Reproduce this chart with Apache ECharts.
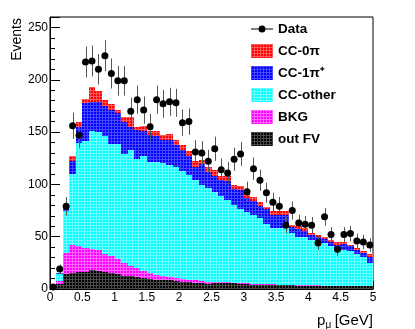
<!DOCTYPE html>
<html>
<head>
<meta charset="utf-8">
<script src="https://cdn.jsdelivr.net/npm/echarts@6/dist/echarts.min.js"></script>
<style>
html, body { margin: 0; padding: 0; background: #fff; }
#chart { width: 415px; height: 329px; }
</style>
</head>
<body>
<div id="chart"></div>
<script>
// 50 bins of 0.1 GeV, p_mu from 0 to 5
var binLow = 0, binWidth = 0.1;

var dataCounts = [2, 19, 79, 156, 147, 217, 218, 210, 223, 206,
                  199, 199, 170, 181, 171, 155, 181, 177, 179, 178,
                  159, 160, 131, 130, 122, 134, 114, 111, 124, 129,
                  93, 115, 104, 92, 83, 79, 61, 75, 63, 62,
                  61, 44, 69, 52, 38, 52, 53, 46, 45, 42];

// MC components, bottom of the stack first
var outFV = [3, 4.8, 14.3, 15.3, 16, 16, 17.8, 17, 16, 15.3,
             14.3, 12.7, 12, 11, 10.5, 10, 9, 9, 8.3, 7.3,
             6.7, 6.4, 5.7, 5.7, 5, 6, 5.7, 5.5, 5.5, 5.2,
             4.5, 4.2, 4, 4, 3.8, 3.6, 3.5, 3.5, 3.3, 3.2,
             3, 3, 2.9, 2.8, 2.7, 2.6, 2.6, 2.5, 2.5, 2.4];
var bkg = [0.3, 2.5, 19.7, 26.4, 24.8, 23, 20.2, 20.6, 17.8, 16.5,
           14.7, 12.1, 10.3, 9, 6.4, 5.3, 4.7, 3.7, 3.2, 3.2,
           3.2, 2.6, 2.6, 1.6, 1.7, 1, 0.8, 0.8, 0.7, 0.8,
           1, 0.8, 0.8, 0.7, 0.7, 0.7, 0.6, 0.5, 0.6, 0.6,
           0.6, 0.5, 0.4, 0.4, 0.4, 0.4, 0.4, 0.4, 0.4, 0.4];
var ccOther = [0.4, 7, 41, 68.3, 99.2, 102, 113.5, 112.4, 112.2, 107.2,
               110, 104.2, 110.7, 104, 110.1, 105.7, 107.3, 107.3, 107.5, 106.5,
               103.1, 100, 96.2, 92.4, 89.8, 86, 82.5, 78.7, 74.4, 70,
               68.5, 66, 63.2, 57.3, 53.5, 53.7, 53.9, 49.5, 46.1, 46.2,
               43.4, 41, 40.2, 37.8, 34.4, 34.5, 33.1, 30.6, 27.6, 22.2];
var cc1pi = [0.1, 0.7, 1.5, 12, 15, 37, 27.5, 29, 28.5, 32,
             29, 31, 22, 28, 24, 26, 25.5, 22.7, 23.7, 21,
             20, 18, 12.5, 19.7, 15.5, 15, 15.5, 18, 14.9, 19,
             13, 13, 11, 14, 13, 13, 13, 5.5, 7, 5,
             5, 5.5, 4.5, 3.6, 4.5, 5.5, 4.9, 4.1, 3.5, 6];
var cc0pi = [0, 0.3, 1, 5, 4.5, 3.5, 14, 10, 6.5, 6,
             3, 4, 9, 3, 5, 4, 4.5, 4.8, 5.3, 4.7,
             5, 4.5, 5, 4.2, 5, 6, 3.5, 4.6, 4.2, 3.7,
             3.8, 3.6, 3.8, 2.5, 3.5, 3.5, 3.5, 2.5, 3, 3,
             2, 2, 2, 1.9, 2.6, 2, 1, 1.4, 2, 2];

var xTicks = [0, 0.5, 1, 1.5, 2, 2.5, 3, 3.5, 4, 4.5, 5];
var yTicks = [0, 50, 100, 150, 200, 250];

var font = 'Liberation Sans';

// small grid texture, like the ROOT fill pattern
function gridFill(base, line) {
  var c = document.createElement('canvas');
  c.width = 3; c.height = 3;
  var g = c.getContext('2d');
  g.fillStyle = base;
  g.fillRect(0, 0, 3, 3);
  g.fillStyle = line;
  g.fillRect(0, 0, 3, 1);
  g.fillRect(0, 0, 1, 3);
  return { image: c, repeat: 'repeat' };
}

var components = [
  { name: 'out FV', values: outFV, color: gridFill('#000000', '#4a4a4a') },
  { name: 'BKG', values: bkg, color: gridFill('#ff00ff', '#ff66ff') },
  { name: 'CC-other', values: ccOther, color: gridFill('#00ffff', '#70ffff') },
  { name: 'CC-1\u03c0\u207a', values: cc1pi, color: gridFill('#0000ff', '#4848ff') },
  { name: 'CC-0\u03c0', values: cc0pi, color: gridFill('#ff0000', '#ff5a5a') }
];

function histItem(params, api) {
  var lo = api.coord([api.value(0), api.value(2)]);
  var hi = api.coord([api.value(1), api.value(3)]);
  var x0 = Math.round(lo[0]), x1 = Math.round(hi[0]);
  var yb = Math.round(lo[1]), yt = Math.round(hi[1]);
  return {
    type: 'rect',
    shape: { x: x0, y: yt, width: x1 - x0, height: yb - yt },
    style: api.style()
  };
}

function errItem(params, api) {
  var a = api.coord([api.value(0), api.value(1)]);
  var b = api.coord([api.value(0), api.value(2)]);
  var x = Math.round(a[0]) + 0.5;
  return {
    type: 'line',
    shape: { x1: x, y1: a[1], x2: x, y2: b[1] },
    style: { stroke: '#555', lineWidth: 1 }
  };
}

var series = [];
var below = dataCounts.map(function () { return 0; });
components.forEach(function (c) {
  var rows = c.values.map(function (v, i) {
    var lo = binLow + i * binWidth;
    var row = [lo, lo + binWidth, below[i], below[i] + v];
    below[i] += v;
    return row;
  });
  series.push({
    name: c.name,
    type: 'custom',
    renderItem: histItem,
    itemStyle: { color: c.color },
    encode: { x: [0, 1], y: [2, 3] },
    data: rows,
    silent: true
  });
});

var centers = dataCounts.map(function (v, i) { return binLow + (i + 0.5) * binWidth; });

series.push({
  type: 'custom',
  renderItem: errItem,
  encode: { x: 0, y: [1, 2] },
  data: dataCounts.map(function (v, i) {
    var e = Math.sqrt(v);
    return [centers[i], v - e, v + e];
  }),
  silent: true,
  z: 3
});

series.push({
  name: 'Data',
  type: 'scatter',
  symbol: 'circle',
  symbolSize: 7,
  itemStyle: { color: '#000', opacity: 1 },
  data: dataCounts.map(function (v, i) { return [centers[i], v]; }),
  silent: true,
  z: 4
});

var dataIcon = 'path://M0,0h0.01v0.01h-0.01z M0,6.5h22v1h-22z M14.5,7a3.5,3.5 0 1 1 -7,0a3.5,3.5 0 1 1 7,0z M21.99,13.99h0.01v0.01h-0.01z';

var chart = echarts.init(document.getElementById('chart'), null, { renderer: 'canvas' });
chart.setOption({
  animation: false,
  backgroundColor: '#fff',
  grid: { left: 50, right: 42, top: 17, bottom: 40, show: true, borderColor: '#000', borderWidth: 1 },
  legend: {
    orient: 'vertical',
    left: 251,
    top: 22,
    padding: 0,
    itemWidth: 22,
    itemHeight: 14,
    itemGap: 8,
    selectedMode: false,
    textStyle: { fontFamily: font, fontWeight: 'bold', fontSize: 13.5, color: '#000' },
    data: [
      { name: 'Data', icon: dataIcon },
      { name: 'CC-0\u03c0', icon: 'rect' },
      { name: 'CC-1\u03c0\u207a', icon: 'rect' },
      { name: 'CC-other', icon: 'rect' },
      { name: 'BKG', icon: 'rect' },
      { name: 'out FV', icon: 'rect' }
    ]
  },
  xAxis: {
    type: 'value',
    min: xTicks[0],
    max: xTicks[xTicks.length - 1],
    interval: 0.5,
    axisLine: { lineStyle: { color: '#000', width: 1 } },
    axisTick: { inside: true, length: 8, lineStyle: { color: '#000' } },
    minorTick: { show: true, splitNumber: 5, length: 4, lineStyle: { color: '#000' } },
    splitLine: { show: false },
    axisLabel: { margin: 3, fontFamily: font, fontSize: 12, color: '#000' }
  },
  yAxis: [{
    type: 'value',
    min: 0,
    max: 260,
    interval: 50,
    axisLine: { show: true, lineStyle: { color: '#000', width: 1 } },
    axisTick: { inside: true, length: 10, lineStyle: { color: '#000' } },
    splitLine: { show: false },
    axisLabel: {
      margin: 2, fontFamily: font, fontSize: 12, color: '#000',
      formatter: function (v) { return yTicks.indexOf(v) >= 0 ? String(v) : ''; }
    }
  }, {
    type: 'value',
    position: 'left',
    offset: 0,
    min: 0,
    max: 260,
    interval: 10,
    axisLine: { show: false },
    axisTick: { inside: true, length: 5, lineStyle: { color: '#000' } },
    splitLine: { show: false },
    axisLabel: { show: false }
  }],
  graphic: [
    {
      type: 'text', x: 17, y: 18, rotation: Math.PI / 2,
      style: { text: 'Events', font: '14px ' + font, fill: '#000', align: 'right', verticalAlign: 'middle' }
    },
    {
      type: 'text', x: 317, y: 313,
      style: { text: 'p', font: '15px ' + font, fill: '#000', align: 'left', verticalAlign: 'alphabetic' }
    },
    {
      type: 'text', x: 325.5, y: 320,
      style: { text: '\u03bc', font: '10px ' + font, fill: '#000', align: 'left', verticalAlign: 'alphabetic' }
    },
    {
      type: 'text', x: 373, y: 313,
      style: { text: '[GeV]', font: '15px ' + font, fill: '#000', align: 'right', verticalAlign: 'alphabetic' }
    }
  ],
  series: series
});
</script>
</body>
</html>
